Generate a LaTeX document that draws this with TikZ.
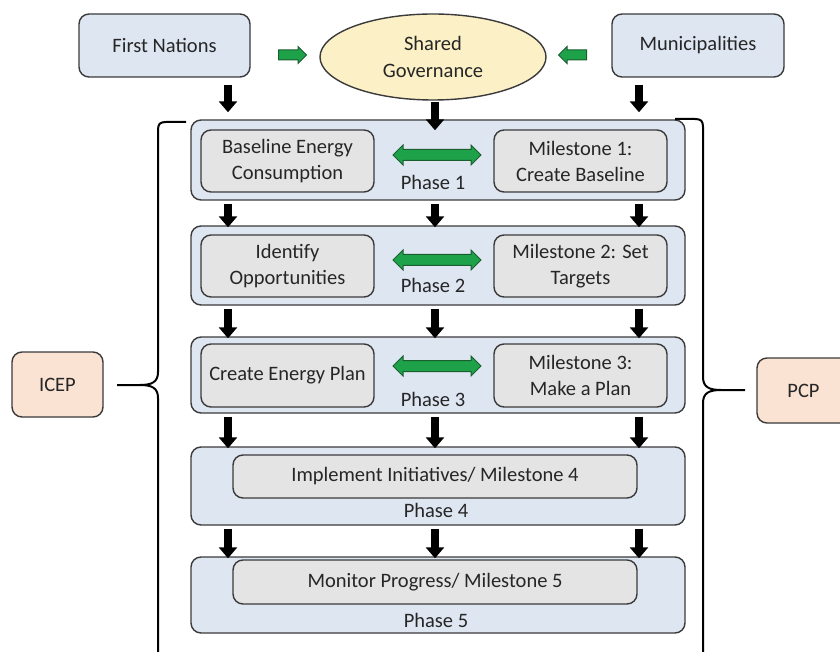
\documentclass[tikz,border=0pt]{standalone}
\usepackage{fontspec}
\setmainfont{Carlito}
\usetikzlibrary{arrows.meta,shapes.geometric,shapes.arrows}
\definecolor{bluefill}{HTML}{DEE6F2}
\definecolor{grayfill}{HTML}{E4E4E4}
\definecolor{yellowfill}{HTML}{FCF0C6}
\definecolor{peachfill}{HTML}{FBE3D3}
\definecolor{edge}{HTML}{3A3A3A}
\definecolor{txt}{HTML}{262626}
\definecolor{gfill}{HTML}{1DA24A}
\definecolor{gedge}{HTML}{1B5E2E}
\tikzset{
  base/.style={draw=edge, line width=1.4pt, rounded corners=10pt, text=txt, align=center, inner sep=0pt,
     font=\fontsize{20.5}{26}\selectfont},
  topbox/.style={base, fill=bluefill},
  phasebox/.style={base, fill=bluefill, minimum width=494pt},
  innerbox/.style={base, fill=grayfill},
  sidebox/.style={base, fill=peachfill},
  lbl/.style={text=txt, font=\fontsize{20.5}{26}\selectfont, inner sep=0pt},
  blk/.style={line width=8pt, draw=black, -{Triangle[width=18pt,length=11pt]}},
  garrow/.style={single arrow, draw=gedge, fill=gfill, line width=1pt, minimum height=28pt,
     inner xsep=0pt, inner ysep=4.5pt, single arrow head extend=3.5pt, single arrow head indent=0pt},
  gdouble/.style={double arrow, draw=gedge, fill=gfill, line width=1pt, minimum height=88pt,
     inner xsep=0pt, inner ysep=5pt, double arrow head extend=4.5pt},
  brace/.style={line width=2pt, draw=black},
}
\begin{document}
\begin{tikzpicture}[x=1pt,y=-1pt]
\useasboundingbox (0,0) rectangle (840,652);
\clip (0,0) rectangle (840,652);
% top row
\node[topbox, minimum width=171pt, minimum height=63pt] (fn) at (164.5,45.5) {First Nations};
\node[topbox, minimum width=172pt, minimum height=63pt] (mun) at (698,45.5) {Municipalities};
\node[ellipse, draw=edge, line width=1.4pt, fill=yellowfill, minimum width=226pt, minimum height=86pt, align=center,
      text=txt, inner sep=0pt, font=\fontsize{20.5}{27}\selectfont] (gov) at (433,57) {Shared\\Governance};
\node[garrow] (ga1) at (290,55) {};
\node[garrow, shape border rotate=180] (ga2) at (575,55) {};
% phases
\node[phasebox, minimum height=80pt] (p1) at (438,160) {};
\node[phasebox, minimum height=79pt] (p2) at (438,265.5) {};
\node[phasebox, minimum height=76pt] (p3) at (438,375) {};
\node[phasebox, minimum height=78pt] (p4) at (438,486) {};
\node[phasebox, minimum height=76pt] (p5) at (438,595) {};
% inner boxes
\node[innerbox, minimum width=173pt, minimum height=62pt] (l1) at (287.5,161) {Baseline Energy\\Consumption};
\node[innerbox, minimum width=173pt, minimum height=62pt] (r1) at (580.5,161) {Milestone 1:\\Create Baseline};
\node[innerbox, minimum width=173pt, minimum height=62pt] (l2) at (287.5,266) {Identify\\Opportunities};
\node[innerbox, minimum width=173pt, minimum height=62pt] (r2) at (580.5,266) {Milestone 2: Set\\Targets};
\node[innerbox, minimum width=173pt, minimum height=63pt] (l3) at (287.5,375.5) {Create Energy Plan};
\node[innerbox, minimum width=173pt, minimum height=63pt] (r3) at (580.5,375.5) {Milestone 3:\\Make a Plan};
\node[innerbox, minimum width=404pt, minimum height=43pt] (m4) at (435,476.5) {Implement Initiatives/ Milestone 4};
\node[innerbox, minimum width=404pt, minimum height=44pt] (m5) at (435,582) {Monitor Progress/ Milestone 5};
% double arrows and phase labels
\node[gdouble] (d1) at (437,155) {};
\node[gdouble] (d2) at (437,260) {};
\node[gdouble] (d3) at (437,366) {};
\node[lbl] (t1) at (433,182) {Phase 1};
\node[lbl] (t2) at (433,285) {Phase 2};
\node[lbl] (t3) at (433,399) {Phase 3};
\node[lbl] (t4) at (436,510) {Phase 4};
\node[lbl] (t5) at (436,620) {Phase 5};
% side boxes
\node[sidebox, minimum width=91pt, minimum height=65pt] (icep) at (57.5,384.5) {ICEP};
\node[sidebox, minimum width=93pt, minimum height=65pt] (pcp) at (803.5,390.5) {PCP};
% column coordinates
\coordinate (c1) at (228,0);
\coordinate (c2) at (435,0);
\coordinate (c3) at (639,0);
% black arrows
\draw[blk, shorten <=7pt, shorten >=7pt] (fn.south -| c1) -- (p1.north -| c1);
\draw[blk, shorten <=1pt, shorten >=-11pt] (gov.south -| c2) -- (p1.north -| c2);
\draw[blk, shorten <=7pt, shorten >=7pt] (mun.south -| c3) -- (p1.north -| c3);
\foreach \a/\b in {p1/p2,p2/p3,p3/p4,p4/p5}{
  \foreach \c in {c1,c2,c3}{
    \draw[blk, shorten <=3pt, shorten >=-2pt] (\a.south -| \c) -- (\b.north -| \c);
  }
}
% braces
\draw[brace] (186,122) -- (166,122) .. controls (160,122) and (158,124) .. (158,130)
  -- (158,372) .. controls (158,382) and (152,385) .. (140,385) -- (117,385)
  (140,385) .. controls (152,385) and (158,388) .. (158,398) -- (158,652);
\draw[brace] (675,119) -- (695,119) .. controls (701,119) and (703,121) .. (703,127)
  -- (703,377) .. controls (703,387) and (709,390) .. (721,390) -- (745,390)
  (721,390) .. controls (709,390) and (703,393) .. (703,403) -- (703,652);
\end{tikzpicture}
\end{document}
